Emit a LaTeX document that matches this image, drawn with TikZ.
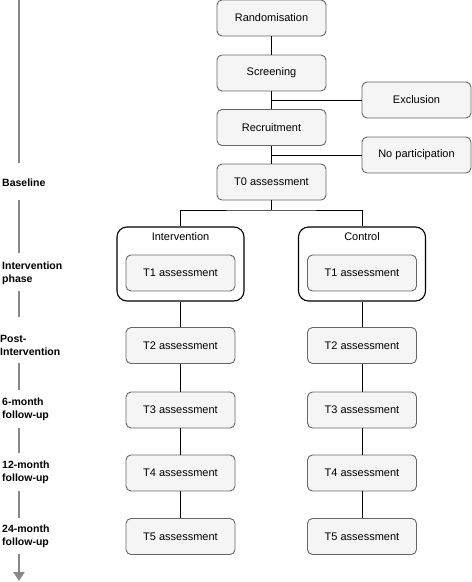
\documentclass[tikz,border=0pt]{standalone}
\usepackage{fontspec}
\setmainfont{Liberation Sans}
\usetikzlibrary{arrows.meta,calc}
\definecolor{boxfill}{HTML}{F5F5F5}
\definecolor{boxdraw}{HTML}{666666}
\definecolor{tlgray}{HTML}{888888}
\begin{document}
\begin{tikzpicture}[x=1pt,y=-1pt,
  stepbox/.style={draw=boxdraw,fill=boxfill,rounded corners=5pt,line width=0.9pt,
    minimum width=109pt,minimum height=36pt,inner sep=0pt,
    font=\fontsize{11}{13}\selectfont},
  groupbox/.style={draw=black,fill=white,rounded corners=10pt,line width=1.1pt,
    minimum width=127pt,minimum height=74pt,inner sep=0pt},
  grouplabel/.style={font=\fontsize{11}{13}\selectfont,inner sep=0pt},
  conn/.style={draw=black,line width=0.9pt},
  phase/.style={font=\fontsize{10.5}{13}\bfseries\selectfont,align=left,anchor=west,inner sep=0pt},
  timeline/.style={draw=tlgray,line width=2pt}
]
\useasboundingbox (0,0) rectangle (472,582);

% timeline
\draw[timeline] (19,0) -- (19,163);
\draw[timeline] (19,200) -- (19,253);
\draw[timeline] (19,291) -- (19,317);
\draw[timeline] (19,363) -- (19,390);
\draw[timeline] (19,428) -- (19,453);
\draw[timeline] (19,491) -- (19,518);
\draw[timeline,-{Triangle[width=11pt,length=9pt]}] (19,554) -- (19,581);

\node[phase] (lb) at (2,183) {Baseline};
\node[phase] (li) at (2,273.5) {Intervention\\phase};
\node[phase] (lp) at (0,345.5) {Post-\\Intervention};
\node[phase] (l6) at (2,409) {6-month\\follow-up};
\node[phase] (l12) at (2,472.5) {12-month\\follow-up};
\node[phase] (l24) at (2,536.5) {24-month\\follow-up};

% main column
\node[stepbox] (rand) at (271.5,18) {Randomisation};
\node[stepbox] (scr) at (271.5,73) {Screening};
\node[stepbox] (rec) at (271.5,127.5) {Recruitment};
\node[stepbox] (t0) at (271.5,182) {T0 assessment};
\node[stepbox] (exc) at (416.5,100) {Exclusion};
\node[stepbox] (nop) at (416.5,155) {No participation};

% groups
\node[groupbox] (gi) at (180.5,264) {};
\node[groupbox] (gc) at (362,264) {};
\node[grouplabel] (gil) at (180.5,237) {Intervention};
\node[grouplabel] (gcl) at (362,237) {Control};

\node[stepbox] (i1) at (180.5,273) {T1 assessment};
\node[stepbox] (c1) at (362,273) {T1 assessment};
\node[stepbox] (i2) at (180.5,345.5) {T2 assessment};
\node[stepbox] (c2) at (362,345.5) {T2 assessment};
\node[stepbox] (i3) at (180.5,410) {T3 assessment};
\node[stepbox] (c3) at (362,410) {T3 assessment};
\node[stepbox] (i4) at (180.5,473) {T4 assessment};
\node[stepbox] (c4) at (362,473) {T4 assessment};
\node[stepbox] (i5) at (180.5,536.5) {T5 assessment};
\node[stepbox] (c5) at (362,536.5) {T5 assessment};

\coordinate (split) at (271.5,210);

% connectors
\draw[conn] (rand) -- (scr);
\draw[conn] (scr) -- (rec);
\draw[conn] (rec) -- (t0);
\draw[conn] (scr.south |- exc.west) -- (exc.west);
\draw[conn] (rec.south |- nop.west) -- (nop.west);
\draw[conn] (t0.south) -- (split);
\draw[conn] (gi.north) |- (split) -| (gc.north);
\draw[conn] (gi.south) -- (i2.north);
\draw[conn] (gc.south) -- (c2.north);
\draw[conn] (i2) -- (i3);
\draw[conn] (c2) -- (c3);
\draw[conn] (i3) -- (i4);
\draw[conn] (c3) -- (c4);
\draw[conn] (i4) -- (i5);
\draw[conn] (c4) -- (c5);
\end{tikzpicture}
\end{document}
